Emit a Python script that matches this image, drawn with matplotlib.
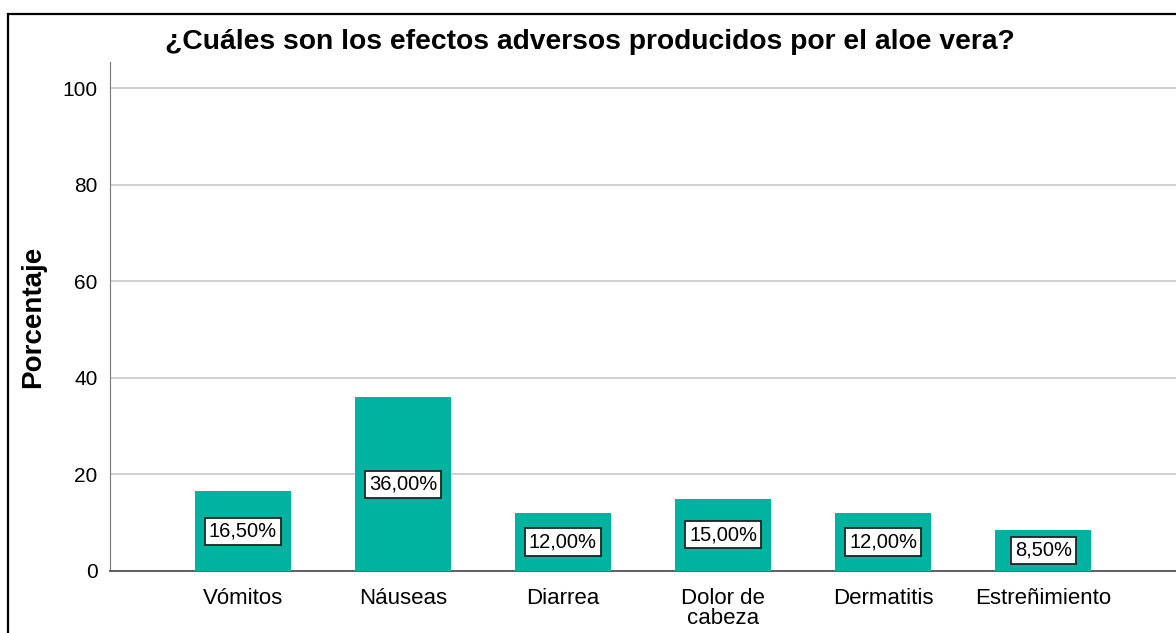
import matplotlib
matplotlib.use("Agg")
import matplotlib.pyplot as plt
from matplotlib.patches import Rectangle

# chart data
categories = ["Vómitos", "Náuseas", "Diarrea", "Dolor de\ncabeza", "Dermatitis", "Estreñimiento"]
percentages = [16.5, 36.0, 12.0, 15.0, 12.0, 8.5]
y_ticks = [0, 20, 40, 60, 80, 100]

plt.rcParams["font.family"] = ["Liberation Sans", "DejaVu Sans"]

fig = plt.figure(figsize=(11.76, 6.33), dpi=100)
ax = fig.add_axes([110 / 1176, 1 - 571 / 633, 1 - 110 / 1176, (571 - 62) / 633])

# outer frame, cut by the image edge like the screenshot
fig.patches.append(Rectangle((8 / 1176, -0.1), 1.2, 1 - 14 / 633 + 0.1,
                             transform=fig.transFigure, fill=False,
                             edgecolor="black", linewidth=1.6))

x = range(len(categories))
ax.bar(x, percentages, width=0.6, color="#00b2a0", zorder=3)

# value labels in white boxes, centred half-way up each bar
for i, v in enumerate(percentages):
    ax.text(i, v / 2, f"{v:.2f}%".replace(".", ","), ha="center", va="center",
            fontsize=14.5, zorder=4,
            bbox=dict(boxstyle="square,pad=0.2", facecolor="white",
                      edgecolor="#222222", linewidth=1.3))

ax.set_xlim(-0.83, 5.83)
ax.set_ylim(0, 105.4)
ax.set_yticks(y_ticks)
ax.set_yticklabels([str(t) for t in y_ticks], fontsize=15)
ax.set_xticks(list(x))
ax.set_xticklabels(categories, fontsize=16, linespacing=0.95)
ax.tick_params(axis="x", length=0, pad=12)
ax.tick_params(axis="y", length=0, pad=9)

ax.grid(axis="y", color="#c8c8c8", linewidth=1.2, zorder=0)
ax.spines["top"].set_visible(False)
ax.spines["right"].set_visible(False)
ax.spines["left"].set_color("#777777")
ax.spines["bottom"].set_color("#555555")
ax.spines["bottom"].set_linewidth(1.3)

ax.set_ylabel("Porcentaje", fontsize=20, fontweight="bold", labelpad=12)
fig.text(590 / 1176, 1 - 42 / 633, "¿Cuáles son los efectos adversos producidos por el aloe vera?",
         ha="center", va="center", fontsize=20.3, fontweight="bold")

fig.savefig("out.png", dpi=100)
